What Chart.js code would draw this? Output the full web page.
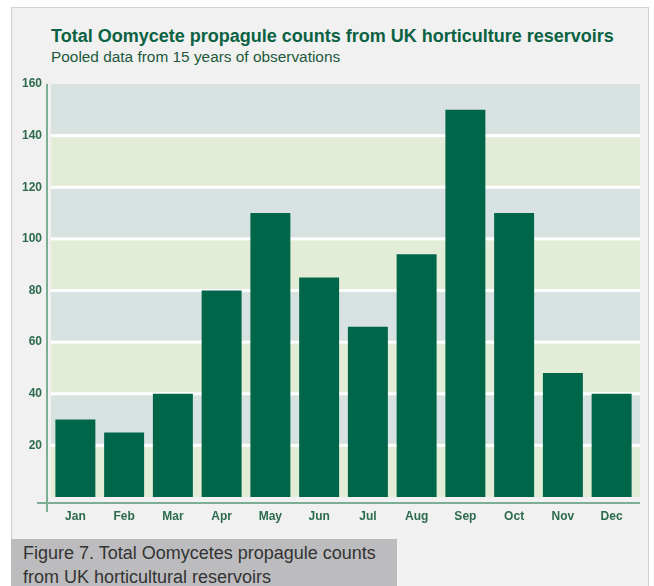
<!DOCTYPE html>
<html>
<head>
<meta charset="utf-8">
<script src="https://cdn.jsdelivr.net/npm/chart.js@4.4.1/dist/chart.umd.min.js"></script>
<style>
  html, body { margin: 0; padding: 0; background: #fff; }
  #wrap { position: relative; width: 654px; height: 586px; overflow: hidden; }
  #frame { position: absolute; left: 11px; top: 7px; width: 638px; height: 600px;
    background: #f1f1f1; border: 1.5px solid #d2d2d2; box-sizing: border-box; }
  #title { position: absolute; left: 51px; top: 26px; font: bold 18px "Liberation Sans", Arial, sans-serif;
    color: #0a6243; white-space: nowrap; }
  #subtitle { position: absolute; left: 51px; top: 48px; font: 15.4px "Liberation Sans", Arial, sans-serif;
    color: #1d5a3c; white-space: nowrap; }
  #caption { position: absolute; left: 11px; top: 539px; width: 386px; height: 60px; background: #bcbcbe;
    font: 18px/24px "Liberation Sans", Arial, sans-serif; color: #333; padding: 2px 0 0 12px; box-sizing: border-box; }
  canvas { position: absolute; left: 0; top: 0; }
</style>
</head>
<body>
<div id="wrap">
  <div id="frame"></div>
  <div id="title">Total Oomycete propagule counts from UK horticulture reservoirs</div>
  <div id="subtitle">Pooled data from 15 years of observations</div>
  <canvas id="myChart" width="654" height="586"></canvas>
  <div id="caption">Figure 7. Total Oomycetes propagule counts<br>from UK horticultural reservoirs</div>
</div>
<script>
const months = ['Jan', 'Feb', 'Mar', 'Apr', 'May', 'Jun', 'Jul', 'Aug', 'Sep', 'Oct', 'Nov', 'Dec'];
const counts = [30, 25, 40, 80, 110, 85, 66, 94, 150, 110, 48, 40];
const yMax = 160;
const yStep = 20;

const green = '#00664a';
const tickColor = '#2c6b4e';
const axisColor = '#7cae96';
const extra = 4; // bands run a little past the last category

// alternating background bands and white grid lines
const bands = {
  id: 'bands',
  beforeDatasetsDraw(chart) {
    const { ctx, chartArea, scales } = chart;
    const y = scales.y;
    const w = chartArea.right + extra - chartArea.left;
    ctx.save();
    for (let v = 0, i = 0; v < yMax; v += yStep, i++) {
      const top = y.getPixelForValue(v + yStep);
      const bot = y.getPixelForValue(v);
      ctx.fillStyle = i % 2 === 0 ? '#e3ecd6' : '#d8e3e1';
      ctx.fillRect(chartArea.left, top, w, bot - top);
    }
    ctx.fillStyle = '#ffffff';
    for (let v = yStep; v < yMax; v += yStep) {
      const py = y.getPixelForValue(v);
      ctx.fillRect(chartArea.left, py - 1.5, w, 3);
    }
    ctx.restore();
  },
  afterDraw(chart) {
    const { ctx, chartArea } = chart;
    ctx.save();
    ctx.strokeStyle = axisColor;
    ctx.lineWidth = 2;
    ctx.beginPath();
    ctx.moveTo(chartArea.left - 4, chartArea.top);
    ctx.lineTo(chartArea.left - 4, chartArea.bottom + 15);
    ctx.moveTo(chartArea.left - 14, chartArea.bottom + 6);
    ctx.lineTo(chartArea.right + extra, chartArea.bottom + 6);
    ctx.stroke();
    ctx.restore();
  }
};

const ctx = document.getElementById('myChart').getContext('2d');
const myChart = new Chart(ctx, {
  type: 'bar',
  data: {
    labels: months,
    datasets: [{
      data: counts,
      backgroundColor: green,
      borderWidth: 0,
      barPercentage: 0.82,
      categoryPercentage: 1
    }]
  },
  options: {
    responsive: false,
    animation: false,
    layout: { padding: { top: 84, right: 18, left: 0, bottom: 0 } },
    plugins: { legend: { display: false }, tooltip: { enabled: false } },
    scales: {
      x: {
        grid: { display: false, drawTicks: false },
        border: { display: false },
        ticks: { color: tickColor, font: { family: 'Liberation Sans', weight: 'bold', size: 12 }, padding: 12 },
        afterFit(scale) { scale.height = 89; }
      },
      y: {
        min: 0,
        max: yMax,
        ticks: {
          stepSize: yStep,
          color: tickColor,
          font: { family: 'Liberation Sans', weight: 'bold', size: 12 },
          padding: 9,
          callback: (v) => (v === 0 ? '' : v)
        },
        grid: { display: false, drawTicks: false },
        border: { display: false },
        afterFit(scale) { scale.width = 51; }
      }
    }
  },
  plugins: [bands]
});
</script>
</body>
</html>
